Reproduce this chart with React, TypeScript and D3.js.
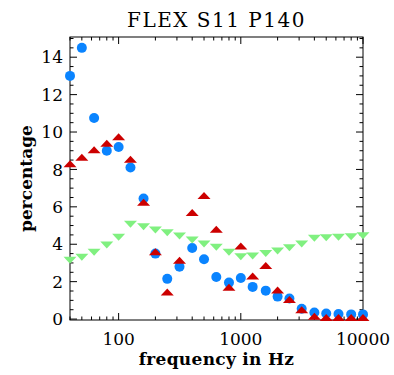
import * as d3 from "d3";

const freqs = [40, 50, 63, 80, 100, 125, 160, 200, 250, 315, 400, 500, 630, 800, 1000, 1250, 1600, 2000, 2500, 3150, 4000, 5000, 6300, 8000, 10000];
const blueVals = [13.0, 14.5, 10.75, 9.0, 9.2, 8.1, 6.45, 3.5, 2.15, 2.8, 3.8, 3.2, 2.25, 1.95, 2.2, 1.72, 1.52, 1.2, 1.1, 0.55, 0.35, 0.3, 0.27, 0.25, 0.25];
const redVals = [8.3, 8.65, 9.05, 9.4, 9.75, 8.55, 6.25, 3.6, 1.45, 3.15, 5.7, 6.6, 4.8, 1.7, 3.9, 2.3, 2.87, 1.55, 1.05, 0.5, 0.15, 0.08, 0.08, 0.08, 0.08];
const greenVals = [3.15, 3.3, 3.57, 3.96, 4.37, 5.07, 4.94, 4.76, 4.62, 4.44, 4.23, 4.01, 3.84, 3.57, 3.33, 3.37, 3.51, 3.64, 3.81, 4.01, 4.32, 4.35, 4.37, 4.4, 4.46];

const xMajor = [100, 1000, 10000];
const xMinor = [40, 50, 60, 70, 80, 90, 200, 300, 400, 500, 600, 700, 800, 900, 2000, 3000, 4000, 5000, 6000, 7000, 8000, 9000];
const yMajor = [0, 2, 4, 6, 8, 10, 12, 14];

const W = 394;
const H = 375;
const left = 70, right = 363, top = 37, bottom = 320;

export default function App() {
  const x = d3.scaleLog().domain([40, 10000]).range([left, right]);
  const y = d3.scaleLinear().domain([-0.05, 15.08]).range([bottom, top]);
  const yMinor = d3.range(0, 15.01, 0.5).filter((v) => v % 2 !== 0);

  const font = "'DejaVu Serif', serif";
  const upTri = (cx: number, cy: number) =>
    `M${cx - 6.5},${cy + 3.5}L${cx + 6.5},${cy + 3.5}L${cx},${cy - 3.5}Z`;
  const downTri = (cx: number, cy: number) =>
    `M${cx - 6.5},${cy - 3.5}L${cx + 6.5},${cy - 3.5}L${cx},${cy + 3.5}Z`;

  return (
    <svg width={W} height={H} style={{ position: "absolute", left: 0, top: 0, background: "#fff" }}>
      {/* frame */}
      <rect x={left} y={top} width={right - left} height={bottom - top} fill="none" stroke="#000" strokeWidth={1} />

      {/* x ticks, bottom and top */}
      {xMajor.map((t) => (
        <g key={"xM" + t}>
          <line x1={x(t)} x2={x(t)} y1={bottom} y2={bottom - 7} stroke="#000" />
          <line x1={x(t)} x2={x(t)} y1={top} y2={top + 7} stroke="#000" />
          <text x={x(t)} y={345} textAnchor="middle" fontFamily={font} fontSize={17}>
            {t}
          </text>
        </g>
      ))}
      {xMinor.map((t) => (
        <g key={"xm" + t}>
          <line x1={x(t)} x2={x(t)} y1={bottom} y2={bottom - 3.5} stroke="#000" />
          <line x1={x(t)} x2={x(t)} y1={top} y2={top + 3.5} stroke="#000" />
        </g>
      ))}

      {/* y ticks, left and right */}
      {yMajor.map((t) => (
        <g key={"yM" + t}>
          <line x1={left} x2={left + 7} y1={y(t)} y2={y(t)} stroke="#000" />
          <line x1={right} x2={right - 7} y1={y(t)} y2={y(t)} stroke="#000" />
          <text x={63} y={y(t)} dy="0.36em" textAnchor="end" fontFamily={font} fontSize={17}>
            {t}
          </text>
        </g>
      ))}
      {yMinor.map((t) => (
        <g key={"ym" + t}>
          <line x1={left} x2={left + 3.5} y1={y(t)} y2={y(t)} stroke="#000" />
          <line x1={right} x2={right - 3.5} y1={y(t)} y2={y(t)} stroke="#000" />
        </g>
      ))}

      {/* series */}
      {freqs.map((f, i) => (
        <circle key={"b" + i} cx={x(f)} cy={y(blueVals[i])} r={5} fill="#0a84ff" />
      ))}
      {freqs.map((f, i) => (
        <path key={"r" + i} d={upTri(x(f), y(redVals[i]))} fill="#cc0000" />
      ))}
      {freqs.map((f, i) => (
        <path key={"g" + i} d={downTri(x(f), y(greenVals[i]))} fill="#80f080" />
      ))}

      {/* titles */}
      <text x={(left + right) / 2} y={27} textAnchor="middle" fontFamily={font} fontSize={20} letterSpacing={1.5}>
        FLEX S11 P140
      </text>
      <text x={(left + right) / 2} y={365} textAnchor="middle" fontFamily={font} fontSize={17} fontWeight="bold" letterSpacing={0.3}>
        frequency in Hz
      </text>
      <text
        transform={`translate(32,${(top + bottom) / 2}) rotate(-90)`}
        textAnchor="middle"
        fontFamily={font}
        fontSize={17}
        fontWeight="bold"
      >
        percentage
      </text>
    </svg>
  );
}
